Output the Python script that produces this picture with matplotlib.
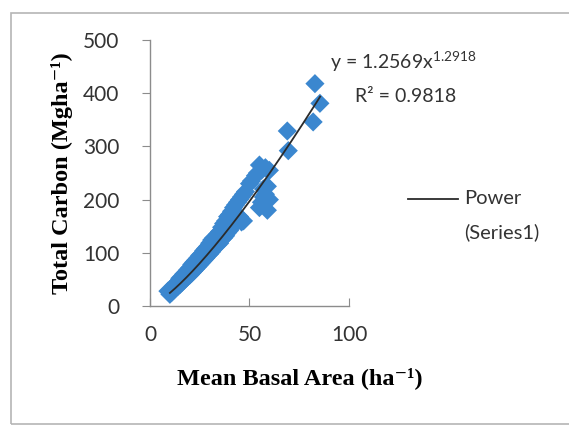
import numpy as np
import matplotlib.pyplot as plt
from matplotlib.lines import Line2D
from matplotlib.patches import Rectangle

# Gemeten punten (basaal oppervlak vs. totale koolstof)
basal_area = [9, 10, 10, 11, 11, 12, 12, 13, 13, 14, 14, 15, 15, 16, 16, 17, 17, 18, 18,
	19, 19, 20, 20, 21, 21, 22, 22, 23, 23, 24, 24, 25, 25, 26, 26, 27, 27, 28, 28,
	29, 29, 30, 30, 31, 31, 32, 32, 33, 33, 34, 34, 35, 35, 36, 36, 37, 37, 38, 38,
	39, 39, 40, 40, 41, 41, 42, 42, 43, 43, 44, 44, 45, 45, 46, 47, 48, 50, 51, 53,
	54, 55, 55, 56, 56, 57, 57, 58, 58, 59, 60, 59, 60, 47, 46, 69, 69.5, 82, 82.9, 85.4]
total_carbon = [28, 22, 30, 26, 33, 30, 38, 35, 42, 37, 46, 40, 52, 44, 55, 48, 60, 52, 63,
	55, 68, 58, 72, 62, 78, 66, 82, 70, 86, 74, 90, 78, 95, 82, 98, 86, 104, 90, 108,
	95, 112, 98, 118, 102, 124, 108, 128, 112, 120, 115, 135, 118, 140, 125, 148, 128, 155, 132, 160,
	138, 168, 142, 172, 148, 178, 152, 185, 158, 190, 162, 195, 168, 200, 205, 210, 215, 230, 235, 245,
	250, 265, 185, 195, 255, 205, 220, 210, 260, 225, 255, 180, 200, 160, 158, 329, 292, 346, 418, 381]

# Trendlijn (power) zoals weergegeven in de figuur
coef_a = 1.2569
coef_b = 1.2918
r_squared = 0.9818
trend_range = [10, 85.5]

x_ticks = [0, 50, 100]
y_ticks = [0, 100, 200, 300, 400, 500]


def main():
	plt.rcParams['mathtext.fontset'] = 'custom'
	plt.rcParams['mathtext.rm'] = 'Lato'

	fig = plt.figure(figsize=(5.69, 4.28), dpi=100)
	ax = fig.add_axes([0.2636, 0.285, 0.3497, 0.6215])

	# Kader rond de grafiek
	fig.add_artist(Rectangle((0.019, 0.009), 1.0, 0.961, transform=fig.transFigure,
		fill=False, edgecolor='#b5b5b5', linewidth=1.2))

	# Punten en trendlijn
	ax.scatter(basal_area, total_carbon, marker='D', s=95, color='#3b87cf',
		edgecolors='none', zorder=2)
	xt = np.linspace(trend_range[0], trend_range[1], 200)
	ax.plot(xt, coef_a * xt ** coef_b, color='#2b2b2b', linewidth=1.3, zorder=3)

	# Assen
	ax.set_xlim(0, 100)
	ax.set_ylim(0, 500)
	ax.set_xticks(x_ticks)
	ax.set_yticks(y_ticks)
	for side in ['top', 'right']:
		ax.spines[side].set_visible(False)
	for side in ['left', 'bottom']:
		ax.spines[side].set_color('#8c8c8c')
		ax.spines[side].set_linewidth(1.0)
	ax.tick_params(axis='y', direction='out', length=6, color='#8c8c8c', pad=16,
		labelsize=15, labelcolor='#333333')
	ax.tick_params(axis='x', direction='in', length=6, color='#8c8c8c', pad=14,
		labelsize=15, labelcolor='#333333')
	for lbl in ax.get_xticklabels() + ax.get_yticklabels():
		lbl.set_family('Lato')

	# Astitels
	serif = ['Liberation Serif', 'DejaVu Serif']
	fig.text(62 / 569, 1 - 173 / 428, 'Total Carbon (Mgha⁻¹)',
		rotation=90, ha='center', va='center', family=serif, weight='bold',
		fontsize=17.5)
	fig.text(300 / 569, 1 - 378 / 428, 'Mean Basal Area (ha⁻¹)',
		ha='center', va='center', family=serif, weight='bold', fontsize=17.5)

	# Vergelijking en R²
	fig.text(330 / 569, 1 - 62 / 428, 'y = %.4fx$^{\\mathrm{%.4f}}$' % (coef_a, coef_b),
		ha='left', va='center', family='Lato', fontsize=14, color='#333333')
	fig.text(355 / 569, 1 - 96 / 428, 'R² = %.4f' % r_squared,
		ha='left', va='center', family='Lato', fontsize=14, color='#333333')

	# Legende
	fig.add_artist(Line2D([408 / 569, 458 / 569], [1 - 199 / 428, 1 - 199 / 428],
		transform=fig.transFigure, color='#2b2b2b', linewidth=1.3))
	fig.text(464 / 569, 1 - 199 / 428, 'Power', ha='left', va='center',
		family='Lato', fontsize=14.5, color='#333333')
	fig.text(464 / 569, 1 - 232 / 428, '(Series1)', ha='left', va='center',
		family='Lato', fontsize=14.5, color='#333333')

	fig.savefig('out.png', dpi=100)


if __name__ == '__main__':
	main()
